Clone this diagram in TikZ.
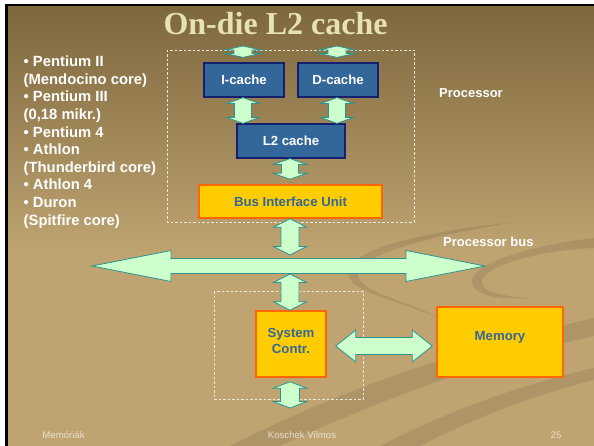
\documentclass[tikz,border=0pt]{standalone}
\usepackage{fontspec}
\setmainfont{Liberation Sans}
\newfontfamily\titlefont{Liberation Serif}
\usetikzlibrary{calc}

\definecolor{bgtop}{HTML}{7D673C}
\definecolor{bgbot}{HTML}{BFA472}
\definecolor{titlecol}{HTML}{E6E2B2}
\definecolor{cachefill}{HTML}{336699}
\definecolor{cacheline}{HTML}{14206E}
\definecolor{unitfill}{HTML}{FFCC00}
\definecolor{unitline}{HTML}{FF6600}
\definecolor{unittext}{HTML}{336699}
\definecolor{arrfill}{HTML}{CCFFCC}
\definecolor{arrline}{HTML}{2E9490}
\definecolor{footcol}{HTML}{E8E0CE}
\definecolor{framecol}{HTML}{EDEAE0}

% slide background: dark olive at the top fading to tan
\pgfdeclareverticalshading{slidebg}{100bp}{color(0bp)=(bgbot); color(25bp)=(bgbot); color(47bp)=(bgbot); color(75bp)=(bgtop); color(100bp)=(bgtop)}

% vertical double arrow: upper end, lower end, half shaft, half head, head length
\newcommand\vbiarrow[5]{%
  \path[biarrow] let \p1=#1, \p2=#2 in
    (\x1,\y1) -- (\x1+#4,\y1-#5) -- (\x1+#3,\y1-#5) -- (\x1+#3,\y2+#5)
    -- (\x1+#4,\y2+#5) -- (\x1,\y2) -- (\x1-#4,\y2+#5) -- (\x1-#3,\y2+#5)
    -- (\x1-#3,\y1-#5) -- (\x1-#4,\y1-#5) -- cycle;}
% horizontal double arrow: left end, right end, half shaft, half head, head length
\newcommand\hbiarrow[5]{%
  \path[biarrow] let \p1=#1, \p2=#2 in
    (\x1,\y1) -- (\x1+#5,\y1+#4) -- (\x1+#5,\y1+#3) -- (\x2-#5,\y1+#3)
    -- (\x2-#5,\y1+#4) -- (\x2,\y1) -- (\x2-#5,\y1-#4) -- (\x2-#5,\y1-#3)
    -- (\x1+#5,\y1-#3) -- (\x1+#5,\y1-#4) -- cycle;}

\tikzset{
  cachebox/.style={draw=cacheline, line width=1.2pt, fill=cachefill, text=white,
    font=\bfseries\fontsize{13.2}{15}\selectfont, inner sep=0pt},
  unitbox/.style={draw=unitline, line width=1.5pt, fill=unitfill, text=unittext,
    font=\bfseries\fontsize{13.2}{16}\selectfont, inner sep=0pt, align=center},
  unittextlbl/.style={text=unittext, font=\bfseries\fontsize{13.2}{16}\selectfont, inner sep=0pt, align=center},
  biarrow/.style={fill=arrfill, draw=arrline, line width=0.8pt, line join=miter},
  groupframe/.style={draw=framecol, dash pattern=on 2.5pt off 2pt, line width=0.7pt},
  sidelabel/.style={text=white, font=\bfseries\fontsize{13}{15}\selectfont, anchor=base west, inner sep=0pt},
  listline/.style={text=white, font=\bfseries\fontsize{14.8}{17}\selectfont, anchor=base west, inner sep=0pt},
  footer/.style={text=footcol, font=\fontsize{9.6}{11}\selectfont, anchor=base, inner sep=0pt},
  swoosh/.style={fill=black, fill opacity=0.09, draw=none},
}

\begin{document}
\begin{tikzpicture}[x=1pt,y=-1pt]
\useasboundingbox (0,0) rectangle (594,446);

% page, slide edge and background
\fill[white] (0,0) rectangle (594,446);
\fill[black] (5,4) rectangle (594,446);
\shade[shading=slidebg] (8,6.5) rectangle (594,446);

% decorative swooshes
\fill[swoosh] (230,446) .. controls (360,380) and (480,345) .. (594,318)
  -- (594,336) .. controls (480,362) and (380,400) .. (280,446) -- cycle;
\fill[swoosh] (380,446) .. controls (450,410) and (520,385) .. (594,368)
  -- (594,380) .. controls (530,396) and (470,420) .. (420,446) -- cycle;
\fill[swoosh] (515,222) .. controls (420,232) and (345,250) .. (348,275)
  .. controls (352,292) and (395,300) .. (440,318)
  .. controls (400,298) and (360,292) .. (358,275)
  .. controls (356,255) and (430,236) .. (515,222) -- cycle;
\fill[swoosh] (594,238) .. controls (540,244) and (470,262) .. (472,282)
  .. controls (474,296) and (500,300) .. (530,298)
  .. controls (500,296) and (482,292) .. (482,282)
  .. controls (482,266) and (540,250) .. (594,248) -- cycle;

% title
\node[text=titlecol, font=\titlefont\bfseries\fontsize{32}{36}\selectfont, anchor=base, inner sep=0pt]
  (title) at (275.5,34.3) {On-die L2 cache};

% processor list
\foreach \txt [count=\i from 0] in {%
  {\textbullet\ Pentium II},{(Mendocino core)},{\textbullet\ Pentium III},{(0,18 mikr.)},
  {\textbullet\ Pentium 4},{\textbullet\ Athlon},{(Thunderbird core)},
  {\textbullet\ Athlon 4},{\textbullet\ Duron},{(Spitfire core)}}
  \node[listline] (item\i) at (23.5,{66.8+17.6*\i}) {\txt};

% group frames
\draw[groupframe] (167,50) rectangle (414,222);
\draw[groupframe] (214,291) rectangle (363,399);

% blocks
\node[cachebox, minimum width=80pt, minimum height=34pt] (icache) at (244,80) {I-cache};
\node[cachebox, minimum width=80pt, minimum height=34pt] (dcache) at (338,80) {D-cache};
\node[cachebox, minimum width=108pt, minimum height=34pt] (ltwo) at (291,141) {L2 cache};
\node[unitbox, minimum width=183pt, minimum height=33pt] (biu) at (290.5,201.5) {Bus Interface Unit};
\node[unitbox, minimum width=70pt, minimum height=66pt] (sysc) at (291,344) {};
\node[unittextlbl] (sysctext) at ($(sysc.center)+(0,-3.5)$) {System\\Contr.};
\node[unitbox, minimum width=126pt, minimum height=70pt] (mem) at (500,342) {};
\node[unittextlbl] (memtext) at ($(mem.center)+(0,-5)$) {Memory};

% labels
\node[sidelabel] (proclbl) at (439,97.5) {Processor};
\node[sidelabel] (buslbl) at (443,247) {Processor bus};

% free ends of the open connectors
\coordinate (itop) at (243,46);
\coordinate (dtop) at (337,46);
\coordinate (busl) at (92,266);
\coordinate (busr) at (485,266);
\coordinate (busmid) at (290,266);
\coordinate (sysbot) at (290,408);

% processor bus
\hbiarrow{(busl)}{(busr)}{7.5pt}{15.5pt}{79pt}

% vertical connectors
\vbiarrow{(itop)}{($(icache.north)+(0,-5)$)}{9pt}{18pt}{4pt}
\vbiarrow{(dtop)}{($(dcache.north)+(-1,-5)$)}{9pt}{18pt}{4pt}
\vbiarrow{($(icache.south)+(-1,0)$)}{($(ltwo.north)+(-48,0)$)}{8.5pt}{16.5pt}{6pt}
\vbiarrow{($(dcache.south)+(-1,0)$)}{($(ltwo.north)+(46,0)$)}{8.5pt}{16.5pt}{6pt}
\vbiarrow{($(ltwo.south)+(-1,0)$)}{($(biu.north)+(0,-5)$)}{8.5pt}{17pt}{6pt}
\vbiarrow{($(biu.south)+(-0.5,0)$)}{($(busmid)+(0,-11)$)}{9pt}{16.5pt}{8.5pt}
\vbiarrow{($(busmid)+(0,8)$)}{($(sysc.north)+(-1,0)$)}{9pt}{16.5pt}{8.5pt}
\vbiarrow{($(sysc.south)+(-1,4)$)}{(sysbot)}{9.5pt}{17pt}{6.5pt}

% system controller to memory
\hbiarrow{($(sysc.east)+(9,2)$)}{($(mem.west)+(-4,4)$)}{8.5pt}{16pt}{20pt}

% footer
\node[footer] (fleft) at (63.5,438) {Memóriák};
\node[footer] (fmid) at (302,438) {Koschek Vilmos};
\node[footer] (fnum) at (556,438) {25};
\end{tikzpicture}
\end{document}
